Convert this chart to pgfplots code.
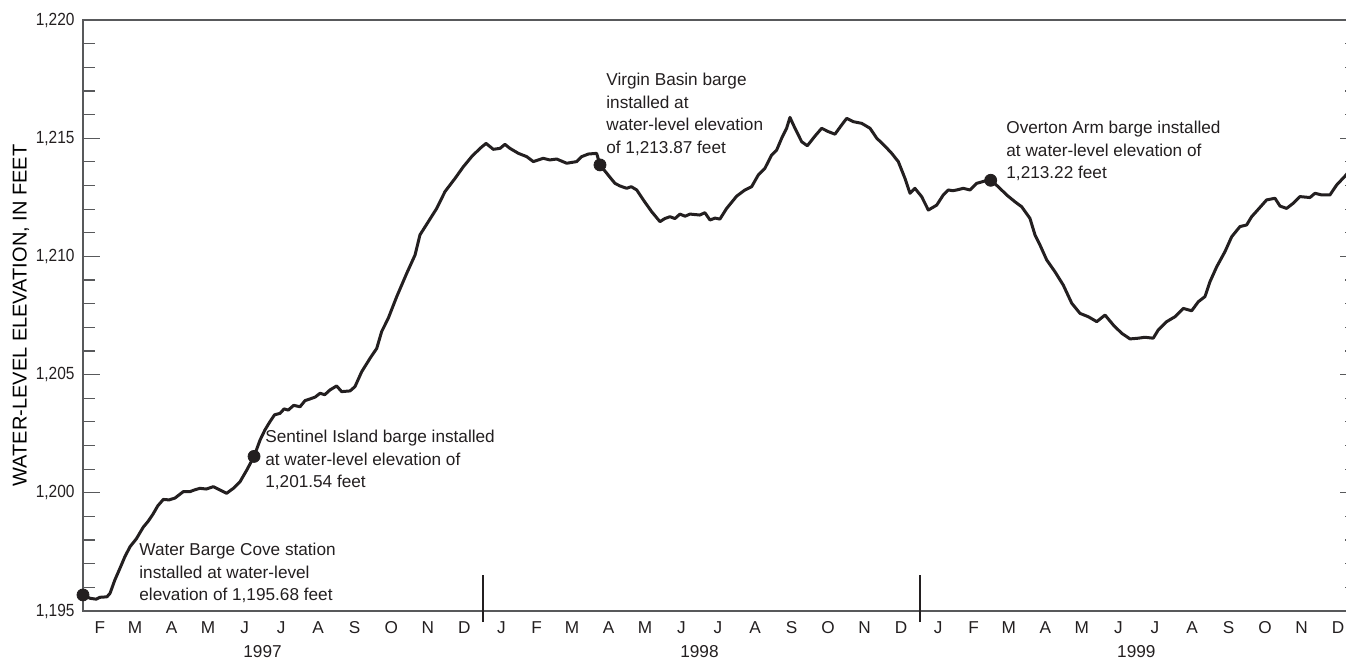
\documentclass[border=0pt]{standalone}
\usepackage{pgfplots}
\usepackage{pgfplotstable}
\usepackage{fontspec}
\pgfplotsset{compat=1.18}
\setmainfont{Liberation Sans}
\newfontfamily\condensed{Liberation Sans}[FakeStretch=0.88]
\definecolor{ink}{HTML}{231F20}
\definecolor{axisgray}{HTML}{58595B}

% Daily water-level elevation, Lake Mead; x = days since 1 January 1997
\pgfplotstableread{
day elev
31.0 1195.68
36.8 1195.54
42.0 1195.50
45.2 1195.58
51.0 1195.60
53.6 1195.75
57.5 1196.30
61.9 1196.81
66.0 1197.30
70.3 1197.72
75.5 1198.05
81.4 1198.55
85.5 1198.80
89.5 1199.10
93.5 1199.45
98.1 1199.72
103.0 1199.70
107.9 1199.78
114.8 1200.05
120.4 1200.05
124.0 1200.12
128.7 1200.19
134.0 1200.16
139.9 1200.26
145.4 1200.12
151.0 1199.98
156.6 1200.19
162.2 1200.47
167.8 1200.96
173.9 1201.54
178.9 1202.23
183.0 1202.66
187.2 1203.01
191.0 1203.30
195.6 1203.36
199.0 1203.55
202.5 1203.50
207.0 1203.70
212.3 1203.64
216.5 1203.90
220.6 1203.97
225.0 1204.05
229.0 1204.21
233.0 1204.15
237.3 1204.35
242.9 1204.52
247.1 1204.28
254.1 1204.31
258.2 1204.49
263.8 1205.12
270.8 1205.69
276.4 1206.11
280.5 1206.82
286.0 1207.38
293.1 1208.30
301.4 1209.28
308.4 1210.06
312.5 1210.91
319.5 1211.47
326.5 1212.03
333.4 1212.74
341.8 1213.30
348.7 1213.79
355.7 1214.22
362.7 1214.57
367.7 1214.78
373.8 1214.53
379.4 1214.57
383.5 1214.74
387.7 1214.57
394.7 1214.36
401.7 1214.22
407.2 1214.01
415.5 1214.15
421.0 1214.08
426.7 1214.12
435.1 1213.94
443.4 1214.01
447.6 1214.22
453.1 1214.33
460.1 1214.36
462.9 1213.87
468.5 1213.52
472.0 1213.30
475.4 1213.09
479.6 1212.98
485.2 1212.88
489.0 1212.95
493.6 1212.81
499.1 1212.39
506.1 1211.89
513.0 1211.47
517.0 1211.60
521.4 1211.68
525.5 1211.60
529.7 1211.79
534.0 1211.70
538.1 1211.79
546.4 1211.75
550.5 1211.85
554.8 1211.54
559.0 1211.62
563.1 1211.58
568.7 1212.03
577.1 1212.55
584.0 1212.81
589.6 1212.95
595.1 1213.44
600.7 1213.73
606.3 1214.29
610.5 1214.50
614.7 1215.00
618.8 1215.42
621.6 1215.88
625.8 1215.42
631.4 1214.85
636.1 1214.68
642.5 1215.09
648.1 1215.42
653.6 1215.28
659.2 1215.17
664.8 1215.56
669.0 1215.84
674.5 1215.70
681.5 1215.63
688.5 1215.42
694.1 1215.00
700.9 1214.67
706.6 1214.36
712.1 1214.01
717.7 1213.30
721.9 1212.67
726.0 1212.88
731.6 1212.53
737.2 1211.96
744.2 1212.17
749.7 1212.60
753.9 1212.81
757.5 1212.78
760.9 1212.81
766.4 1212.88
772.0 1212.81
777.6 1213.09
784.5 1213.19
789.3 1213.22
795.6 1212.95
802.6 1212.60
809.6 1212.31
815.2 1212.10
822.1 1211.61
826.3 1210.91
830.5 1210.48
836.1 1209.85
843.0 1209.35
849.9 1208.79
857.0 1208.02
863.9 1207.59
870.8 1207.45
877.9 1207.24
884.8 1207.52
891.7 1207.10
898.7 1206.75
905.7 1206.51
912.6 1206.54
918.2 1206.58
925.1 1206.54
929.3 1206.89
936.3 1207.24
943.3 1207.45
950.2 1207.80
957.2 1207.70
962.7 1208.08
968.3 1208.30
972.5 1208.93
978.1 1209.56
985.0 1210.20
990.6 1210.83
997.5 1211.26
1003.1 1211.33
1007.3 1211.68
1012.8 1211.99
1019.8 1212.39
1026.8 1212.46
1031.0 1212.13
1036.5 1212.03
1042.1 1212.25
1047.7 1212.53
1056.0 1212.49
1060.2 1212.67
1065.8 1212.60
1072.7 1212.60
1078.3 1213.02
1086.1 1213.44
1090.0 1213.70
}\elevation

% Dates the gaging barges were installed
\pgfplotstableread{
day elev
31.0 1195.68
173.9 1201.54
462.9 1213.87
789.3 1213.22
}\installs

\begin{document}
\begin{tikzpicture}
\begin{axis}[
  scale only axis,
  width=636.8pt, height=295.5pt,
  xmin=31, xmax=1095,
  ymin=1195, ymax=1220,
  clip=false,
  axis line style={axisgray, line width=0.6pt},
  every tick/.style={axisgray, line width=0.6pt},
  tick align=inside,
  xtick pos=both, ytick pos=both,
  major tick length=8.5pt,
  minor tick length=6pt,
  ytick={1195,1200,...,1220},
  minor ytick={1196,1197,1198,1199,1201,1202,1203,1204,1206,1207,1208,1209,1211,1212,1213,1214,1216,1217,1218,1219},
  yticklabel style={font=\fontsize{8.8}{10}\condensed, text=ink, xshift=-0.7pt},
  /pgf/number format/.cd, 1000 sep={,}, assume math mode=true, /pgfplots/.cd,
  xtick={45,74.5,105,135.5,166,196.5,227.5,258,288.5,319,349.5,
         380.5,410,439.5,470,500.5,531,561.5,592.5,623,653.5,684,714.5,
         745.5,775,804.5,835,865.5,896,926.5,957.5,988,1018.5,1049,1079.5},
  xticklabels={F,M,A,M,J,J,A,S,O,N,D,
               J,F,M,A,M,J,J,A,S,O,N,D,
               J,F,M,A,M,J,J,A,S,O,N,D},
  xtick style={draw=none},
  minor xtick={59,90,120,151,181,212,243,273,304,334,365,
               396,424,455,485,516,546,577,608,638,669,699,730,
               761,789,820,850,881,911,942,973,1003,1034,1064},
  xticklabel style={font=\fontsize{8.6}{10}\selectfont, text=ink, yshift=-1.5pt,
                    text height=6.4pt, text depth=0pt},
  extra x ticks={181,546,911},
  extra x tick labels={1997,1998,1999},
  extra x tick style={xtick style={draw=none}, xticklabel style={yshift=-12pt}, xticklabel pos=lower},
  ylabel={WATER-LEVEL ELEVATION, IN FEET},
  ylabel style={font=\fontsize{8.6}{10}\condensed, text=ink},
  every axis y label/.style={at={(axis description cs:-0.0487,0.5)}, rotate=90, anchor=center},
]
\addplot[ink, line width=1.5pt, line join=round] table[x=day, y=elev] {\elevation};
\addplot[only marks, mark=*, mark size=3pt, ink] table[x=day, y=elev] {\installs};

% Year boundaries
\draw[ink, line width=1.1pt] (axis cs:365,1194.535) -- (axis cs:365,1196.52);
\draw[ink, line width=1.1pt] (axis cs:730,1194.535) -- (axis cs:730,1196.52);

\begin{scope}[every node/.style={anchor=north west, align=left, inner sep=0pt,
    font=\fontsize{8.6}{11.25}\selectfont, text=ink}]
\node at (axis cs:77.8,1197.88) {Water Barge Cove station\\installed at water-level\\elevation of 1,195.68 feet};
\node at (axis cs:183.0,1202.66) {Sentinel Island barge installed\\at water-level elevation of\\1,201.54 feet};
\node at (axis cs:467.9,1217.76) {Virgin Basin barge\\installed at\\water-level elevation\\of 1,213.87 feet};
\node at (axis cs:802.1,1215.73) {Overton Arm barge installed\\at water-level elevation of\\1,213.22 feet};
\end{scope}

\coordinate (bl) at (rel axis cs:0,0);
\coordinate (tr) at (rel axis cs:1,1);
\end{axis}
\pgfresetboundingbox
\path ([xshift=-41.5pt,yshift=-24.5pt]bl) rectangle ([xshift=-5.3pt,yshift=10pt]tr);
\end{tikzpicture}
\end{document}
